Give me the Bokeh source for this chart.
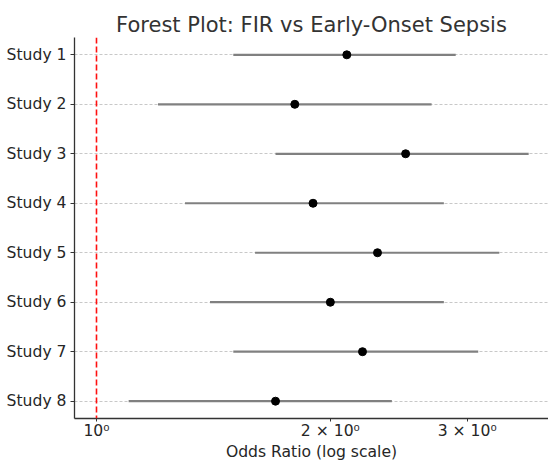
from bokeh.plotting import figure
from bokeh.models import Range1d, FixedTicker, Span, ColumnDataSource
from bokeh.embed import file_html
from bokeh.resources import INLINE

studies = ["Study 1", "Study 2", "Study 3", "Study 4", "Study 5", "Study 6", "Study 7", "Study 8"]
odds_ratio = [2.1, 1.8, 2.5, 1.9, 2.3, 2.0, 2.2, 1.7]
ci_lower = [1.5, 1.2, 1.7, 1.3, 1.6, 1.4, 1.5, 1.1]
ci_upper = [2.9, 2.7, 3.6, 2.8, 3.3, 2.8, 3.1, 2.4]
x_ticks = [1, 2, 3]
x_tick_labels = ["10\u2070", "2 \u00d7 10\u2070", "3 \u00d7 10\u2070"]
null_effect = 1

n = len(studies)
ypos = [n - 1 - i for i in range(n)]
src = ColumnDataSource(dict(study=studies, y=ypos, orr=odds_ratio, lo=ci_lower, hi=ci_upper))

FONT = "DejaVu Sans"
TXT = "#262626"

p = figure(
    width=548, height=461,
    frame_width=474, frame_height=381,
    x_axis_type="log",
    x_range=Range1d(0.9369, 3.818),
    y_range=Range1d(-0.35, n - 1 + 0.35),
    output_backend="svg", toolbar_location=None,
    title="Forest Plot: FIR vs Early-Onset Sepsis",
    min_border_left=74, min_border_right=0, min_border_top=37, min_border_bottom=0,
)
p.outline_line_color = None
p.background_fill_color = "white"

p.title.align = "center"
p.title.text_font = FONT
p.title.text_font_size = "21px"
p.title.text_font_style = "normal"
p.title.text_color = "#333333"
p.title.standoff = 2

# grid
p.xgrid.grid_line_color = None
p.ygrid.ticker = FixedTicker(ticks=ypos)
p.ygrid.grid_line_color = "#c8c8c8"
p.ygrid.grid_line_dash = "3 2"
p.ygrid.grid_line_width = 1

# x axis
xa = p.xaxis[0]
xa.ticker = FixedTicker(ticks=x_ticks)
xa.major_label_overrides = {t: l for t, l in zip(x_ticks, x_tick_labels)}
xa.axis_label = "Odds Ratio (log scale)"
xa.axis_label_text_font = FONT
xa.axis_label_text_font_size = "15.6px"
xa.axis_label_text_font_style = "normal"
xa.axis_label_text_color = TXT
xa.axis_label_standoff = 0
xa.major_label_text_font = FONT
xa.major_label_text_font_size = "15.6px"
xa.major_label_text_color = TXT
xa.major_label_standoff = 0
xa.major_tick_out = 3
xa.major_tick_in = 0
xa.minor_tick_line_color = None
xa.axis_line_color = "#333333"
xa.axis_line_width = 1.3
xa.major_tick_line_color = "#333333"

# y axis
ya = p.yaxis[0]
ya.ticker = FixedTicker(ticks=ypos)
ya.major_label_overrides = {y: s for y, s in zip(ypos, studies)}
ya.major_label_text_font = FONT
ya.major_label_text_font_size = "15.6px"
ya.major_label_text_color = TXT
ya.major_label_standoff = 4
ya.major_tick_out = 4
ya.major_tick_in = 0
ya.minor_tick_line_color = None
ya.axis_line_color = "#333333"
ya.axis_line_width = 1.3
ya.major_tick_line_color = "#333333"

p.segment(x0="lo", y0="y", x1="hi", y1="y", source=src, line_color="#808080", line_width=2.2)
p.scatter(x="orr", y="y", source=src, size=8, fill_color="black", line_color="black")

p.add_layout(Span(location=null_effect, dimension="height", line_color="#ff1010",
                  line_dash="6 3", line_width=1.6))

open("out.html", "w").write(file_html(p, INLINE))
